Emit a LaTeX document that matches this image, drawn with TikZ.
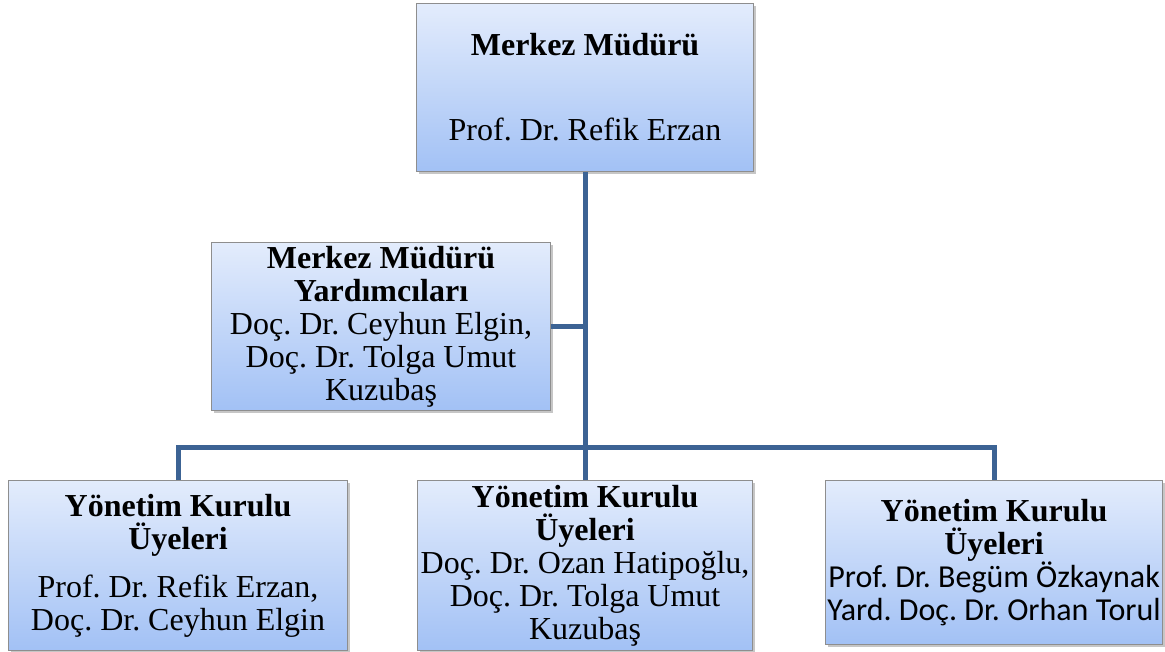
\documentclass[tikz,border=0pt]{standalone}
\usepackage{fontspec}
\setmainfont{Liberation Serif}
\newfontfamily\carlito{Carlito}
\usetikzlibrary{shadows}
\definecolor{linkblue}{HTML}{3C6394}
\definecolor{boxtop}{HTML}{E3ECFC}
\definecolor{boxbot}{HTML}{A2C1F5}
\definecolor{boxedge}{HTML}{8E8E8E}
\tikzset{
  orgbox/.style={rectangle, draw=boxedge, line width=1.1pt, top color=boxtop, bottom color=boxbot,
    drop shadow={shadow xshift=2pt, shadow yshift=-2.5pt, opacity=0.45},
    anchor=north west, align=center, inner sep=0pt,
    font=\frenchspacing\fontsize{32}{33}\selectfont},
  link/.style={draw=linkblue, line width=5pt}
}
\newcommand{\sansname}[1]{{\carlito\frenchspacing\fontsize{32}{33}\selectfont #1}}
\begin{document}
\begin{tikzpicture}[x=1pt,y=-1pt]
\useasboundingbox (0,0) rectangle (1165,652);
\node[orgbox, minimum width=337pt, minimum height=168pt] (top) at (416,3)
  {\textbf{Merkez Müdürü}\\[52pt]Prof. Dr. Refik Erzan};
\node[orgbox, minimum width=339pt, minimum height=168pt] (vl) at (211,242)
  {\textbf{Merkez Müdürü}\\\textbf{Yardımcıları}\\Doç. Dr. Ceyhun Elgin,\\Doç. Dr. Tolga Umut\\Kuzubaş};
\node[orgbox, minimum width=339pt, minimum height=170pt] (bl) at (8,480)
  {\textbf{Yönetim Kurulu}\\\textbf{Üyeleri}\\[15pt]Prof. Dr. Refik Erzan,\\Doç. Dr. Ceyhun Elgin};
\node[orgbox, minimum width=335pt, minimum height=170pt] (bm) at (417,480)
  {\textbf{Yönetim Kurulu}\\\textbf{Üyeleri}\\Doç. Dr. Ozan Hatipoğlu,\\Doç. Dr. Tolga Umut\\Kuzubaş};
\node[orgbox, minimum width=337pt, minimum height=164pt] (br) at (825,480)
  {\textbf{Yönetim Kurulu}\\\textbf{Üyeleri}\\\sansname{Prof. Dr. Begüm Özkaynak}\\\sansname{Yard. Doç. Dr. Orhan Torul}};
\coordinate (bar) at (584.5,447);
\draw[link] (top.south) -- (bm.north);
\draw[link] (vl.east) -- (vl.east -| top.south);
\draw[link] (bl.north) |- (bar) -| (br.north);
\end{tikzpicture}
\end{document}
